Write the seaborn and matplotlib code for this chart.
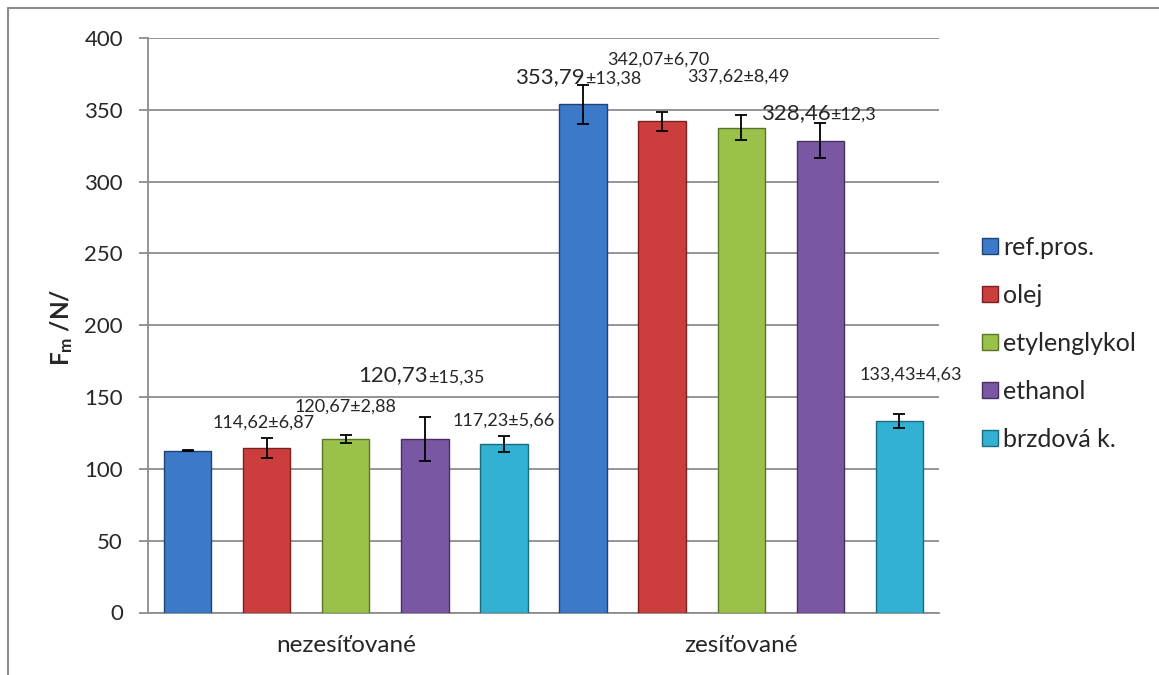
import matplotlib
matplotlib.use("Agg")
import matplotlib.pyplot as plt
import pandas as pd
import seaborn as sns
from matplotlib.lines import Line2D

# ---- data ----
groups = ["nezesíťované", "zesíťované"]
media = ["ref.pros.", "olej", "etylenglykol", "ethanol", "brzdová k."]
means_nezes = [112.6, 114.62, 120.67, 120.73, 117.23]
sd_nezes = [0.5, 6.87, 2.88, 15.35, 5.66]
means_zes = [353.79, 342.07, 337.62, 328.46, 133.43]
sd_zes = [13.38, 6.70, 8.49, 12.3, 4.63]

# value labels: bigger number part + smaller rest (order: group, then medium)
label_big = ["", "", "", "120,73", "", "353,79", "", "", "328,46", ""]
label_small = ["", "114,62±6,87", "120,67±2,88", "±15,35", "117,23±5,66",
               "±13,38", "342,07±6,70", "337,62±8,49", "±12,3", "133,43±4,63"]
# left edge / vertical centre of each label, in data units
label_xy = [(0, 0), (-0.336, 132.2), (-0.129, 143.3), (0.032, 165.0), (0.269, 133.6),
            (0.428, 372.9), (0.660, 384.7), (0.864, 372.9), (1.049, 347.8), (1.300, 165.6)]

colors = ["#3D79C9", "#CC3E3E", "#9AC24A", "#7A57A3", "#33B1D2"]
edges = ["#1F4473", "#7A2020", "#5A7527", "#45305F", "#1C6A80"]

df = pd.DataFrame({
    "skupina": [g for g in groups for _ in media],
    "medium": media * 2,
    "Fm": means_nezes + means_zes,
    "sd": sd_nezes + sd_zes,
})

sns.set_theme(style="white")
plt.rcParams["font.family"] = ["Lato", "DejaVu Sans"]
plt.rcParams["mathtext.fontset"] = "custom"
plt.rcParams["mathtext.rm"] = "Lato"
plt.rcParams["mathtext.bf"] = "Lato:bold"

grid_c = "#8C8C8C"
fig = plt.figure(figsize=(11.59, 6.75), dpi=100)
ax = fig.add_axes([148 / 1159, 1 - 612.5 / 675, 791 / 1159, 574.5 / 675])

sns.barplot(data=df, x="skupina", y="Fm", hue="medium", order=groups,
            hue_order=media, palette=colors, saturation=1, width=1.0, gap=0.4,
            errorbar=None, ax=ax, legend=False, zorder=3)

# darker rim per series + error bars at the bar centres
bar_containers = list(ax.containers)
for i, cont in enumerate(bar_containers):
    for j, bar in enumerate(cont.patches):
        bar.set_edgecolor(edges[i])
        bar.set_linewidth(1.0)
        sub = df[(df.medium == media[i]) & (df.skupina == groups[j])].iloc[0]
        ax.errorbar(bar.get_x() + bar.get_width() / 2, sub.Fm, yerr=sub.sd,
                    fmt="none", ecolor="black", elinewidth=1.3, capsize=4.5,
                    capthick=1.3, zorder=4)

# value labels
for big, small, (lx, ly) in zip(label_big, label_small, label_xy):
    if not big and not small:
        continue
    if big:
        t = ax.text(lx, ly, big, fontsize=16, ha="left", va="center", zorder=5)
        ax.annotate(small, xy=(1, 0), xycoords=t, fontsize=13,
                    ha="left", va="bottom", zorder=5)
    else:
        ax.text(lx, ly, small, fontsize=13, ha="left", va="center", zorder=5)

ax.set_ylim(0, 400)
ax.set_xlim(-0.5, 1.5)
ax.set_yticks(range(0, 401, 50))
ax.yaxis.grid(True, color=grid_c, linewidth=1.3, zorder=0)
ax.set_axisbelow(True)
for s in ["top", "right"]:
    ax.spines[s].set_visible(False)
for s in ["left", "bottom"]:
    ax.spines[s].set_color(grid_c)
    ax.spines[s].set_linewidth(1.3)
ax.tick_params(axis="y", direction="out", length=6.5, width=1.3, color=grid_c,
               labelsize=16, pad=11.5, left=True)
ax.tick_params(axis="x", length=0, labelsize=17.5, pad=16)
ax.set_xlabel("")
ax.set_ylabel("")
fig.text(62 / 1159, 1 - 327 / 675, r"$\mathbf{F_m}$ /N/", rotation=90,
         fontsize=17.5, fontweight="bold", ha="center", va="center")

# legend on the right
handles = [Line2D([], [], marker="s", linestyle="none", markersize=11,
                  markerfacecolor=c, markeredgecolor=e, markeredgewidth=1.0)
           for c, e in zip(colors, edges)]
fig.legend(handles, media, loc="upper left", bbox_to_anchor=(982 / 1159, 1 - 236 / 675),
           frameon=False, fontsize=18, labelspacing=1.0, handlelength=0.6,
           handletextpad=0.25, borderpad=0, borderaxespad=0)

# outer chart frame (top and left edges visible)
fig.add_artist(Line2D([8 / 1159, 1], [1 - 7.5 / 675] * 2, color=grid_c, lw=1.5))
fig.add_artist(Line2D([8 / 1159] * 2, [0, 1 - 7.5 / 675], color=grid_c, lw=1.5))

fig.savefig("out.png", dpi=100)
